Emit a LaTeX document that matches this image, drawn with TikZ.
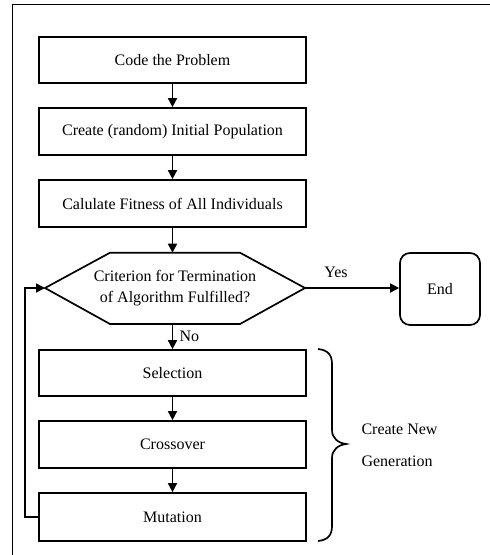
\documentclass[tikz,border=0pt]{standalone}
\usepackage{fontspec}
\setmainfont{Liberation Serif}
\usetikzlibrary{arrows.meta}
\begin{document}
\begin{tikzpicture}[x=1pt,y=-1pt,
  every node/.style={font=\fontsize{16}{21}\selectfont},
  stepbox/.style={draw,line width=1.7pt,minimum width=267pt,inner sep=0pt},
  arr/.style={line width=1.7pt,-{Triangle[length=9pt,width=9pt]}},
  ln/.style={line width=1.7pt}]
\useasboundingbox (0,0) rectangle (490,555);
% outer frame (only top and left visible)
\draw[line width=1.8pt] (12.5,555) -- (12.5,4.5) -- (490,4.5);
% boxes
\node[stepbox,minimum height=46pt] (b1) at (172.5,60) {Code the Problem};
\node[stepbox,minimum height=47pt] (b2) at (172.5,131.5) {Create (random) Initial Population};
\node[stepbox,minimum height=47pt] (b3) at (172.5,203.5) {Calulate Fitness of All Individuals};
\node[stepbox,minimum height=46pt] (sel) at (172.5,373) {Selection};
\node[stepbox,minimum height=47pt] (cro) at (172.5,444.5) {Crossover};
\node[stepbox,minimum height=48pt] (mut) at (172.5,517) {Mutation};
\node[draw,line width=1.7pt,rounded corners=10pt,minimum width=80pt,minimum height=72pt] (end) at (440,289) {End};
% hexagon decision
\coordinate (hL) at (45,288);
\coordinate (hTL) at (110,252.7);
\coordinate (hTR) at (240,252.7);
\coordinate (hR) at (305,288);
\coordinate (hBR) at (240,324);
\coordinate (hBL) at (110,324);
\draw[ln,line join=miter] (hL) -- (hTL) -- (hTR) -- (hR) -- (hBR) -- (hBL) -- cycle;
\node[align=center] (crit) at (175,288.5) {Criterion for Termination\\of Algorithm Fulfilled?};
% connectors
\draw[arr] (b1) -- (b2);
\draw[arr] (b2) -- (b3);
\draw[arr] (b3.south) -- (b3.south |- hTL);
\draw[arr] (sel) -- (cro);
\draw[arr] (cro) -- (mut);
\coordinate (hB) at (172.5,324);
\draw[arr] (hB) -- (sel.north) node[pos=0.5,right=3pt] (no) {No};
\draw[arr] (hR) -- (hR -| end.west);
\node (yes) at (336,272) {Yes};
\draw[arr] (mut.west) -- ++(-13,0) |- (hL);
% brace
\coordinate (brT) at (318,349);
\coordinate (brB) at (318,541);
\coordinate (brTip) at (346,444);
\draw[ln] (brT) .. controls (328,350) and (332,355) .. (332,364)
  -- (332,430) .. controls (332,438) and (338,443) .. (brTip)
  .. controls (338,445) and (332,450) .. (332,458)
  -- (332,526) .. controls (332,535) and (328,540) .. (brB);
\node[anchor=west] (cn1) at (358,429) {Create New};
\node[anchor=west] (cn2) at (358,461) {Generation};
\end{tikzpicture}
\end{document}
